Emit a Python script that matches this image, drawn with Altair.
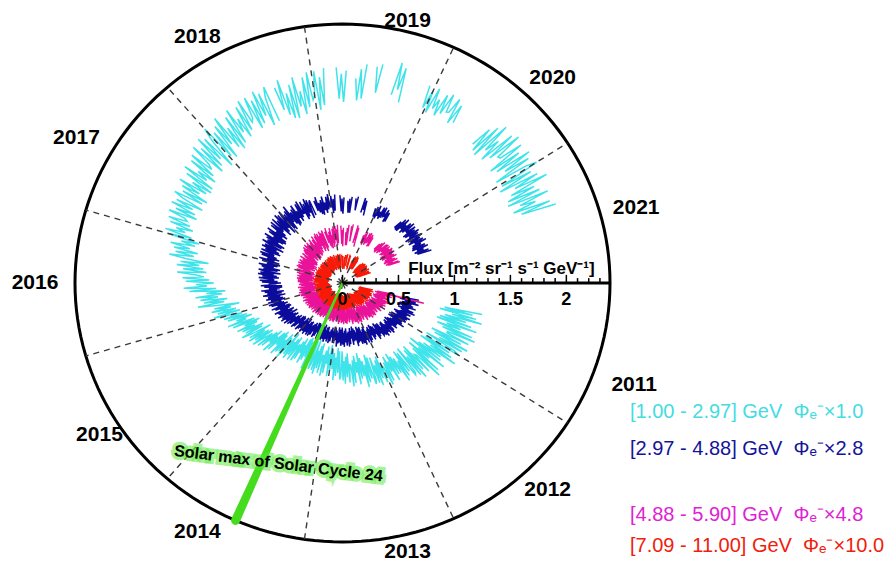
import altair as alt
import pandas as pd

RMAX = 2.39      # outer flux of the polar frame
T0 = 2011.0      # angle 0 (the flux axis)
SPAN = 11.0      # years per full turn

# time grid (decimal years) shared by all four series
years = [round(2011.40 + 0.02 * i, 2) for i in range(499)]

N = None
cyan = [
    1.28, 0.94, 1.20, 0.90, 1.24, 1.02, 1.30, 0.96, 1.16, 0.92,
    1.22, 0.90, 1.28, 1.00, 1.14, 0.92, 1.26, 0.98, 1.30, 1.04,
    1.04, 1.26, 0.90, 1.20, 0.94, 1.28, 1.00, 1.24, 0.88, 1.18,
    1.23, 0.89, 1.15, 0.85, 1.19, 0.97, 1.25, 0.91, 1.11, 0.87,
    1.13, 0.79, 1.19, 0.90, 1.04, 0.81, 1.17, 0.87, 1.21, 0.94,
    0.92, 1.12, 0.80, 1.07, 0.83, 1.14, 0.89, 1.10, 0.78, 1.05,
    1.07, 0.81, 1.01, 0.78, 1.04, 0.87, 1.08, 0.83, 0.98, 0.80,
    0.98, 0.76, 1.03, 0.83, 0.93, 0.77, 1.01, 0.82, 1.04, 0.86,
    0.84, 1.00, 0.74, 0.95, 0.77, 1.01, 0.81, 0.98, 0.73, 0.94,
    0.98, 0.72, 0.92, 0.69, 0.95, 0.78, 0.99, 0.74, 0.88, 0.71,
    0.90, 0.66, 0.95, 0.74, 0.84, 0.68, 0.93, 0.72, 0.96, 0.77,
    0.75, 0.92, 0.65, 0.87, 0.68, 0.93, 0.72, 0.90, 0.63, 0.86,
    0.89, 0.63, 0.83, 0.60, 0.86, 0.69, 0.90, 0.65, 0.80, 0.62,
    0.82, 0.58, 0.87, 0.66, 0.76, 0.60, 0.85, 0.64, 0.88, 0.69,
    0.69, 0.86, 0.58, 0.82, 0.61, 0.88, 0.66, 0.85, 0.56, 0.80,
    0.85, 0.58, 0.79, 0.55, 0.82, 0.65, 0.87, 0.60, 0.76, 0.57,
    0.80, 0.59, 0.84, 0.66, 0.75, 0.60, 0.82, 0.64, 0.85, 0.68,
    0.71, 0.86, 0.62, 0.82, 0.65, 0.87, 0.69, 0.84, 0.61, 0.81,
    0.90, 0.68, 0.85, 0.65, 0.87, 0.73, 0.91, 0.69, 0.82, 0.66,
    0.90, 0.69, 0.94, 0.76, 0.85, 0.70, 0.92, 0.74, 0.95, 0.78,
    0.85, 0.98, 0.76, 0.94, 0.79, 0.99, 0.82, 0.97, 0.75, 0.93,
    1.03, 0.82, 0.98, 0.80, 1.00, 0.87, 1.04, 0.84, 0.96, 0.81,
    1.06, 0.85, 1.10, 0.92, 1.01, 0.86, 1.08, 0.90, 1.11, 0.94,
    1.04, 1.19, 0.95, 1.15, 0.98, 1.20, 1.02, 1.17, 0.94, 1.14,
    1.31, 1.07, 1.25, 1.04, 1.28, 1.12, 1.32, 1.08, 1.22, 1.05,
    1.37, 1.13, 1.42, 1.21, 1.31, 1.15, 1.40, 1.19, 1.43, 1.24,
    1.32, 1.48, 1.22, 1.43, 1.25, 1.49, 1.29, 1.46, 1.21, 1.42,
    1.57, 1.35, 1.52, 1.32, 1.54, 1.40, 1.58, 1.36, 1.49, 1.33,
    1.62, 1.41, 1.66, 1.48, 1.57, 1.42, 1.64, 1.46, 1.67, 1.50,
    1.53, 1.69, 1.43, 1.64, 1.46, 1.70, 1.50, 1.67, 1.42, 1.63,
    1.72, 1.45, 1.66, 1.42, 1.69, 1.52, 1.74, 1.47, 1.63, 1.44,
    1.72, 1.45, 1.77, 1.54, 1.65, 1.47, 1.76, 1.52, 1.79, 1.57,
    1.62, 1.83, 1.49, 1.77, 1.53, 1.85, 1.58, 1.81, 1.47, 1.76,
    1.88, 1.54, 1.80, 1.50, 1.84, 1.62, 1.90, 1.56, 1.76, 1.52,
    1.85, 1.56, 1.90, 1.65, 1.78, 1.58, 1.88, 1.63, 1.92, 1.69,
    1.72, 1.92, 1.60, 1.87, 1.63, 1.94, 1.69, 1.90, 1.58, 1.85,
    1.94, 1.60, N, N, 1.90, 1.68, 1.96, 1.62, 1.82, 1.58,
    1.89, 1.57, 1.95, 1.67, 1.81, 1.59, 1.93, 1.65, 1.97, 1.71,
    1.75, 1.97, 1.61, 1.91, 1.65, 1.99, N, N, N, N,
    1.99, 1.70, 1.93, 1.67, 1.96, N, N, N, 1.89, 1.69,
    1.98, 1.71, 2.03, N, N, N, 2.02, 1.78, 2.05, N,
    N, N, N, N, 1.79, 2.10, 1.85, 2.06, 1.74, N,
    N, N, N, N, N, N, N, N, 1.98, 1.77,
    1.95, 1.74, 1.99, 1.80, 1.90, 1.75, 1.97, 1.79, 2.00, 1.83,
    1.84, 1.99, 1.75, 1.95, 1.78, N, N, N, N, N,
    N, N, N, N, N, N, N, 1.73, 1.93, 1.69,
    1.99, 1.67, 2.05, 1.77, 1.91, 1.69, 2.03, 1.75, 2.07, 1.81,
    1.82, 2.04, 1.68, 1.98, 1.72, 2.06, 1.78, 2.02, 1.66, 1.96,
    2.06, 1.68, 1.97, 1.64, 2.01, 1.77, 2.08, 1.71, 1.93, 1.66,
    1.96, 1.64, 2.02, 1.74, 1.88, 1.66, 2.00, 1.72, 2.04,
]

blue = [
    0.70, 0.55, 0.67, 0.53, 0.68, 0.58, 0.71, 0.56, 0.65, 0.54,
    0.67, 0.53, 0.70, 0.57, 0.64, 0.54, 0.69, 0.57, 0.71, 0.59,
    0.58, 0.68, 0.52, 0.65, 0.54, 0.69, 0.56, 0.67, 0.51, 0.65,
    0.67, 0.52, 0.64, 0.50, 0.65, 0.55, 0.68, 0.53, 0.62, 0.51,
    0.62, 0.49, 0.64, 0.53, 0.59, 0.50, 0.63, 0.52, 0.65, 0.55,
    0.54, 0.63, 0.49, 0.61, 0.50, 0.64, 0.53, 0.62, 0.48, 0.60,
    0.61, 0.48, 0.58, 0.46, 0.60, 0.51, 0.62, 0.48, 0.56, 0.47,
    0.58, 0.45, 0.60, 0.49, 0.55, 0.46, 0.59, 0.48, 0.61, 0.51,
    0.50, 0.60, 0.44, 0.57, 0.46, 0.61, 0.48, 0.59, 0.43, 0.57,
    0.59, 0.44, 0.56, 0.42, 0.57, 0.47, 0.60, 0.45, 0.54, 0.43,
    0.55, 0.41, 0.58, 0.45, 0.52, 0.42, 0.57, 0.45, 0.59, 0.47,
    0.48, 0.58, 0.42, 0.55, 0.44, 0.59, 0.46, 0.57, 0.41, 0.55,
    0.58, 0.43, 0.55, 0.41, 0.56, 0.46, 0.59, 0.44, 0.53, 0.42,
    0.54, 0.41, 0.56, 0.45, 0.51, 0.42, 0.55, 0.44, 0.57, 0.47,
    0.47, 0.56, 0.42, 0.54, 0.43, 0.57, 0.46, 0.55, 0.41, 0.53,
    0.56, 0.43, 0.53, 0.41, 0.55, 0.46, 0.57, 0.43, 0.51, 0.42,
    0.55, 0.42, 0.57, 0.46, 0.52, 0.43, 0.56, 0.45, 0.58, 0.48,
    0.49, 0.58, 0.44, 0.56, 0.45, 0.59, 0.48, 0.57, 0.43, 0.55,
    0.59, 0.46, 0.56, 0.44, 0.58, 0.49, 0.60, 0.46, 0.54, 0.45,
    0.59, 0.46, 0.61, 0.50, 0.56, 0.47, 0.60, 0.49, 0.62, 0.52,
    0.54, 0.64, 0.48, 0.61, 0.50, 0.65, 0.52, 0.63, 0.47, 0.61,
    0.66, 0.51, 0.63, 0.49, 0.64, 0.54, 0.67, 0.52, 0.61, 0.50,
    0.65, 0.51, 0.68, 0.55, 0.62, 0.52, 0.67, 0.55, 0.69, 0.57,
    0.59, 0.69, 0.53, 0.66, 0.55, 0.70, 0.57, 0.68, 0.52, 0.66,
    0.72, 0.55, 0.68, 0.53, 0.70, 0.59, 0.73, 0.56, 0.66, 0.54,
    0.70, 0.54, 0.73, 0.59, 0.66, 0.55, 0.72, 0.58, 0.74, 0.61,
    0.64, 0.75, 0.57, 0.72, 0.59, 0.76, 0.62, 0.74, 0.56, 0.71,
    0.76, 0.59, 0.72, 0.57, 0.74, 0.63, 0.77, 0.60, 0.70, 0.58,
    0.75, 0.59, 0.78, 0.64, 0.71, 0.60, 0.77, 0.63, 0.79, 0.66,
    0.68, 0.79, 0.61, 0.76, 0.63, 0.80, 0.66, 0.78, 0.60, 0.75,
    0.82, 0.63, 0.78, 0.61, 0.80, 0.68, 0.83, 0.64, 0.75, 0.62,
    0.81, 0.63, 0.84, 0.68, 0.76, 0.64, 0.83, 0.67, 0.85, 0.71,
    0.73, 0.86, 0.64, 0.82, 0.67, 0.87, 0.70, 0.85, 0.63, 0.81,
    0.87, 0.66, 0.82, 0.64, 0.84, 0.71, 0.88, 0.68, 0.80, 0.65,
    0.82, 0.66, 0.85, 0.71, 0.78, 0.67, 0.84, 0.70, 0.86, 0.73,
    0.73, 0.84, 0.66, 0.81, 0.68, 0.85, 0.71, 0.83, 0.65, 0.80,
    0.82, 0.67, N, N, 0.80, 0.70, 0.83, 0.68, 0.77, 0.66,
    0.79, 0.65, 0.82, 0.69, 0.76, 0.66, 0.81, 0.69, 0.83, 0.71,
    0.71, 0.81, 0.65, 0.78, 0.67, 0.82, N, N, N, N,
    0.81, 0.66, 0.78, 0.64, 0.79, N, N, N, 0.76, 0.65,
    0.78, 0.65, 0.80, N, N, N, 0.79, 0.68, 0.81, N,
    N, N, N, N, 0.67, 0.81, 0.70, 0.79, 0.65, N,
    N, N, N, N, N, N, N, N, 0.75, 0.67,
    0.77, 0.66, 0.79, 0.69, 0.74, 0.67, 0.79, 0.69, 0.80, 0.71,
    0.72, 0.79, 0.67, 0.77, 0.68, N, N, N, N, N,
    N, N, N, N, N, N, N, 0.69, 0.77, 0.68,
    0.81, 0.68, 0.83, 0.72, 0.78, 0.69, 0.82, 0.71, 0.84, 0.74,
    0.74, 0.83, 0.69, 0.81, 0.70, 0.84, 0.73, 0.82, 0.68, 0.80,
    0.84, 0.71, 0.81, 0.69, 0.83, 0.74, 0.85, 0.71, 0.79, 0.70,
    0.82, 0.69, 0.84, 0.73, 0.79, 0.70, 0.83, 0.72, 0.85,
]

magenta = [
    0.45, 0.32, 0.75, 0.30, 0.44, 0.35, 0.46, 0.32, 0.40, 0.31,
    0.42, 0.29, 0.44, 0.33, 0.39, 0.30, 0.43, 0.32, 0.45, 0.35,
    0.34, 0.43, 0.29, 0.41, 0.30, 0.44, 0.33, 0.42, 0.28, 0.40,
    0.42, 0.29, 0.39, 0.27, 0.41, 0.32, 0.43, 0.29, 0.37, 0.28,
    0.39, 0.26, 0.41, 0.30, 0.36, 0.27, 0.40, 0.29, 0.42, 0.32,
    0.32, 0.41, 0.27, 0.39, 0.28, 0.42, 0.31, 0.40, 0.26, 0.38,
    0.40, 0.27, 0.37, 0.25, 0.39, 0.30, 0.41, 0.27, 0.35, 0.26,
    0.37, 0.24, 0.39, 0.28, 0.34, 0.25, 0.38, 0.27, 0.40, 0.30,
    0.30, 0.39, 0.25, 0.37, 0.26, 0.40, 0.29, 0.38, 0.24, 0.36,
    0.38, 0.25, 0.35, 0.23, 0.37, 0.28, 0.39, 0.25, 0.33, 0.24,
    0.35, 0.22, 0.37, 0.26, 0.32, 0.23, 0.36, 0.25, 0.38, 0.28,
    0.28, 0.37, 0.23, 0.35, 0.24, 0.38, 0.27, 0.36, 0.22, 0.34,
    0.37, 0.24, 0.34, 0.22, 0.36, 0.27, 0.38, 0.24, 0.32, 0.23,
    0.34, 0.21, 0.36, 0.25, 0.31, 0.22, 0.35, 0.24, 0.37, 0.27,
    0.27, 0.36, 0.22, 0.34, 0.23, 0.37, 0.26, 0.35, 0.21, 0.33,
    0.36, 0.23, 0.33, 0.21, 0.35, 0.26, 0.37, 0.23, 0.31, 0.22,
    0.34, 0.21, 0.36, 0.25, 0.31, 0.22, 0.35, 0.24, 0.37, 0.27,
    0.27, 0.36, 0.22, 0.34, 0.23, 0.37, 0.26, 0.35, 0.21, 0.33,
    0.37, 0.24, 0.34, 0.22, 0.36, 0.27, 0.38, 0.24, 0.32, 0.23,
    0.35, 0.22, 0.37, 0.26, 0.32, 0.23, 0.36, 0.25, 0.38, 0.28,
    0.28, 0.37, 0.23, 0.35, 0.24, 0.38, 0.27, 0.36, 0.22, 0.34,
    0.38, 0.25, 0.35, 0.23, 0.37, 0.28, 0.39, 0.25, 0.33, 0.24,
    0.36, 0.23, 0.38, 0.27, 0.33, 0.24, 0.37, 0.26, 0.39, 0.29,
    0.30, 0.39, 0.25, 0.37, 0.26, 0.40, 0.29, 0.38, 0.24, 0.36,
    0.39, 0.26, 0.36, 0.24, 0.38, 0.29, 0.40, 0.26, 0.34, 0.25,
    0.37, 0.24, 0.39, 0.28, 0.34, 0.25, 0.38, 0.27, 0.40, 0.30,
    0.31, 0.40, 0.26, 0.38, 0.27, 0.41, 0.30, 0.39, 0.25, 0.37,
    0.41, 0.28, 0.38, 0.26, 0.40, 0.31, 0.42, 0.28, 0.36, 0.27,
    0.40, 0.26, 0.43, 0.30, 0.37, 0.27, 0.42, 0.30, 0.44, 0.32,
    0.33, 0.43, 0.27, 0.40, 0.29, 0.44, 0.31, 0.42, 0.26, 0.40,
    0.44, 0.29, 0.41, 0.27, 0.42, 0.32, 0.45, 0.30, 0.39, 0.28,
    0.42, 0.28, 0.45, 0.32, 0.39, 0.29, 0.44, 0.32, 0.46, 0.34,
    0.37, 0.48, 0.30, 0.45, 0.32, 0.49, 0.35, 0.47, 0.29, 0.44,
    0.49, 0.32, 0.45, 0.30, 0.47, 0.36, 0.50, 0.33, 0.43, 0.31,
    0.48, 0.32, 0.51, 0.37, 0.44, 0.33, 0.50, 0.36, 0.52, 0.39,
    0.40, 0.51, 0.33, 0.48, 0.35, 0.52, 0.38, 0.50, 0.32, 0.47,
    0.52, 0.35, N, N, 0.50, 0.39, 0.53, 0.36, 0.46, 0.34,
    0.49, 0.33, 0.52, 0.38, 0.45, 0.34, 0.51, 0.37, 0.53, 0.40,
    0.42, 0.53, 0.35, 0.50, 0.37, 0.54, N, N, N, N,
    0.53, 0.36, 0.49, 0.34, 0.51, N, N, N, 0.47, 0.35,
    0.51, 0.35, 0.54, N, N, N, 0.53, 0.39, 0.55, N,
    N, N, N, N, 0.38, 0.55, 0.41, 0.53, 0.35, N,
    N, N, N, N, N, N, N, N, 0.48, 0.40,
    0.50, 0.39, 0.52, 0.42, 0.47, 0.40, 0.52, 0.42, 0.53, 0.44,
    0.45, 0.52, 0.40, 0.50, 0.41, N, N, N, N, N,
    N, N, N, N, N, N, N, 0.42, 0.49, 0.41,
    0.51, 0.40, 0.53, 0.43, 0.48, 0.41, 0.53, 0.43, 0.54, 0.45,
    0.47, 0.54, 0.42, 0.52, 0.43, 0.55, 0.45, 0.54, 0.41, 0.52,
    0.54, 0.42, 0.52, 0.41, 0.53, 0.45, 0.55, 0.43, 0.50, 0.42,
    0.52, 0.41, 0.54, 0.44, 0.49, 0.42, 0.54, 0.44, 0.55,
]

red = [
    0.28, 0.16, 0.26, 0.15, 0.27, 0.19, 0.29, 0.17, 0.24, 0.16,
    0.26, 0.15, 0.28, 0.18, 0.23, 0.16, 0.28, 0.18, 0.29, 0.20,
    0.20, 0.27, 0.15, 0.25, 0.16, 0.28, 0.18, 0.27, 0.14, 0.25,
    0.27, 0.15, 0.25, 0.14, 0.26, 0.18, 0.28, 0.16, 0.23, 0.15,
    0.24, 0.13, 0.26, 0.16, 0.21, 0.14, 0.26, 0.16, 0.27, 0.18,
    0.19, 0.26, 0.14, 0.24, 0.15, 0.27, 0.17, 0.26, 0.13, 0.24,
    0.25, 0.13, 0.23, 0.12, 0.24, 0.16, 0.26, 0.14, 0.21, 0.13,
    0.22, 0.11, 0.24, 0.14, 0.19, 0.12, 0.24, 0.14, 0.25, 0.16,
    0.17, 0.24, 0.12, 0.22, 0.13, 0.25, 0.15, 0.24, 0.11, 0.22,
    0.24, 0.12, 0.22, 0.11, 0.23, 0.15, 0.25, 0.13, 0.20, 0.12,
    0.22, 0.11, 0.24, 0.14, 0.19, 0.12, 0.24, 0.14, 0.25, 0.16,
    0.17, 0.24, 0.12, 0.22, 0.13, 0.25, 0.15, 0.24, 0.11, 0.22,
    0.24, 0.12, 0.22, 0.11, 0.23, 0.15, 0.25, 0.13, 0.20, 0.12,
    0.22, 0.11, 0.24, 0.14, 0.19, 0.12, 0.24, 0.14, 0.25, 0.16,
    0.17, 0.24, 0.12, 0.22, 0.13, 0.25, 0.15, 0.24, 0.11, 0.22,
    0.24, 0.12, 0.22, 0.11, 0.23, 0.15, 0.25, 0.13, 0.20, 0.12,
    0.22, 0.11, 0.24, 0.14, 0.19, 0.12, 0.24, 0.14, 0.25, 0.16,
    0.17, 0.24, 0.12, 0.22, 0.13, 0.25, 0.15, 0.24, 0.11, 0.22,
    0.24, 0.12, 0.22, 0.11, 0.23, 0.15, 0.25, 0.13, 0.20, 0.12,
    0.22, 0.11, 0.24, 0.14, 0.19, 0.12, 0.24, 0.14, 0.25, 0.16,
    0.17, 0.24, 0.12, 0.22, 0.13, 0.25, 0.15, 0.24, 0.11, 0.22,
    0.24, 0.12, 0.22, 0.11, 0.23, 0.15, 0.25, 0.13, 0.20, 0.12,
    0.22, 0.11, 0.24, 0.14, 0.19, 0.12, 0.24, 0.14, 0.25, 0.16,
    0.17, 0.24, 0.12, 0.22, 0.13, 0.25, 0.15, 0.24, 0.11, 0.22,
    0.24, 0.12, 0.22, 0.11, 0.23, 0.15, 0.25, 0.13, 0.20, 0.12,
    0.23, 0.12, 0.25, 0.15, 0.20, 0.13, 0.25, 0.15, 0.26, 0.17,
    0.18, 0.25, 0.13, 0.23, 0.14, 0.26, 0.16, 0.25, 0.12, 0.23,
    0.25, 0.13, 0.23, 0.12, 0.24, 0.16, 0.26, 0.14, 0.21, 0.13,
    0.23, 0.12, 0.25, 0.15, 0.20, 0.13, 0.25, 0.15, 0.26, 0.17,
    0.18, 0.25, 0.13, 0.23, 0.14, 0.26, 0.16, 0.25, 0.12, 0.23,
    0.25, 0.13, 0.23, 0.12, 0.24, 0.16, 0.26, 0.14, 0.21, 0.13,
    0.23, 0.12, 0.25, 0.15, 0.20, 0.13, 0.25, 0.15, 0.26, 0.17,
    0.18, 0.25, 0.13, 0.23, 0.14, 0.26, 0.16, 0.25, 0.12, 0.23,
    0.25, 0.13, 0.23, 0.12, 0.24, 0.16, 0.26, 0.14, 0.21, 0.13,
    0.24, 0.13, 0.26, 0.16, 0.21, 0.14, 0.26, 0.16, 0.27, 0.18,
    0.19, 0.26, 0.14, 0.24, 0.15, 0.27, 0.17, 0.26, 0.13, 0.24,
    0.26, 0.14, N, N, 0.25, 0.17, 0.27, 0.15, 0.22, 0.14,
    0.24, 0.13, 0.26, 0.16, 0.21, 0.14, 0.26, 0.16, 0.27, 0.18,
    0.19, 0.26, 0.14, 0.24, 0.15, 0.27, N, N, N, N,
    0.26, 0.14, 0.24, 0.13, 0.25, N, N, N, 0.22, 0.14,
    0.24, 0.13, 0.26, N, N, N, 0.26, 0.16, 0.27, N,
    N, N, N, N, 0.15, 0.27, 0.17, 0.26, 0.13, N,
    N, N, N, N, N, N, N, N, 0.23, 0.15,
    0.25, 0.14, 0.27, 0.17, 0.22, 0.15, 0.27, 0.17, 0.28, 0.19,
    0.20, 0.27, 0.15, 0.25, 0.16, N, N, N, N, N,
    N, N, N, N, N, N, N, 0.16, 0.23, 0.15,
    0.24, 0.13, 0.26, 0.16, 0.21, 0.14, 0.26, 0.16, 0.27, 0.18,
    0.19, 0.26, 0.14, 0.24, 0.15, 0.27, 0.17, 0.26, 0.13, 0.24,
    0.26, 0.14, 0.24, 0.13, 0.25, 0.17, 0.27, 0.15, 0.22, 0.14,
    0.24, 0.13, 0.26, 0.16, 0.21, 0.14, 0.26, 0.16, 0.27,
]

series_names = ["cyan", "blue", "magenta", "red"]
series_colors = ["#3FE3EA", "#0C0C9C", "#EA1299", "#F81A08"]
series_widths = [1.5, 1.5, 1.4, 1.4]

legend_texts = [
    "[1.00 - 2.97] GeV\u00a0\u00a0\u03a6\u2091\u207b\u00d71.0",
    "[2.97 - 4.88] GeV\u00a0\u00a0\u03a6\u2091\u207b\u00d72.8",
    "[4.88 - 5.90] GeV\u00a0\u00a0\u03a6\u2091\u207b\u00d74.8",
    "[7.09 - 11.00] GeV\u00a0\u00a0\u03a6\u2091\u207b\u00d710.0",
]
legend_colors = ["#44DCE2", "#14149A", "#DE22D4", "#F0200C"]

year_labels = list(range(2011, 2022))
boundary_years = list(range(2012, 2022))
flux_tick_values = [0, 0.5, 1, 1.5, 2]
flux_tick_labels = ["0", "0.5", "1", "1.5", "2"]
solar_max_time = 2014.47

# ---------------- layout (pixels) ----------------
W, H = 535, 518
PXX, PXY = W / (2 * RMAX), H / (2 * RMAX)
year_dx = [35, 30, 27, -34, -18, -40, -41, -34, 27, 35, 37]
year_dy = [29, 11, 13, 13, 12, 0, -5, -10, -6, -9, -2]
legend_x = 555
legend_y = [388, 425, 491, 522]
FONT = "Liberation Sans"

# ---------------- tables ----------------
rows = []
for name, vals in zip(series_names, [cyan, blue, magenta, red]):
    seg, gap = 0, False
    for t, v in zip(years, vals):
        if v is None:
            gap = True
            continue
        if gap:
            seg += 1
            gap = False
        rows.append({"t": t, "v": v, "s": name, "seg": f"{name}_{seg}"})
flux = pd.DataFrame(rows)

PHI = f"(datum.t - {T0}) / {SPAN} * 2 * PI"
xs = alt.Scale(domain=[-RMAX, RMAX], nice=False, zero=False)
ys = alt.Scale(domain=[-RMAX, RMAX], nice=False, zero=False)


def X(f="x"):
    return alt.X(f"{f}:Q", scale=xs, axis=None)


def Y(f="y"):
    return alt.Y(f"{f}:Q", scale=ys, axis=None)


def polar(ch):
    return ch.transform_calculate(phi=PHI).transform_calculate(
        x="datum.v * cos(datum.phi)", y="-datum.v * sin(datum.phi)"
    )


# outer circle
circle_df = pd.DataFrame({"a": list(range(0, 361, 2))})
circle = alt.Chart(circle_df).transform_calculate(
    x=f"{RMAX} * cos(datum.a * PI / 180)", y=f"{RMAX} * sin(datum.a * PI / 180)"
).mark_line(color="black", strokeWidth=3).encode(x=X(), y=Y(), order="a:Q")

# data spirals
data_layers = []
for name, col, sw in zip(series_names, series_colors, series_widths):
    data_layers.append(
        polar(alt.Chart(flux).transform_filter(f"datum.s == '{name}'"))
        .mark_line(color=col, strokeWidth=sw)
        .encode(x=X(), y=Y(), detail="seg:N", order="t:Q")
    )

# dashed year boundaries
dash_df = pd.DataFrame({"t": boundary_years, "v": [RMAX] * len(boundary_years)})
dashes = polar(alt.Chart(dash_df)).transform_calculate(x0="0", y0="0").mark_rule(
    color="#3a3a3a", strokeWidth=1.4, strokeDash=[6, 5]
).encode(x=X("x0"), y=Y("y0"), x2="x:Q", y2="y:Q")

# solar max wedge
wedge_df = pd.DataFrame({"t": [solar_max_time] * 2, "v": [0.0, RMAX], "w": [2.0, 9.0]})
wedge = polar(alt.Chart(wedge_df)).mark_trail(color="#46DC1E").encode(
    x=X(), y=Y(), size=alt.Size("w:Q", scale=None, legend=None), order="v:Q"
)

# flux axis
axis_df = pd.DataFrame({"x0": [0.0], "x1": [RMAX], "y0": [0.0]})
axis_line = alt.Chart(axis_df).mark_rule(color="black", strokeWidth=3).encode(
    x=X("x0"), x2="x1:Q", y=Y("y0")
)
tick_df = pd.DataFrame({"x": [round(0.1 * i, 1) for i in range(24)]})
tick_df["y0"] = 0.0
tick_df["y1"] = [0.075 if i % 5 == 0 else 0.045 for i in range(24)]
ticks = alt.Chart(tick_df).mark_rule(color="black", strokeWidth=1.5).encode(
    x=X(), y=Y("y0"), y2="y1:Q"
)
lab_df = pd.DataFrame({"x": flux_tick_values, "y": [0.0] * 5, "label": flux_tick_labels})
tick_text = alt.Chart(lab_df).mark_text(
    font=FONT, fontSize=18, fontWeight="bold", dy=17, baseline="middle", color="black"
).encode(x=X(), y=Y(), text="label:N")
ftitle_df = pd.DataFrame({"x": [1.42], "y": [0.0],
                          "label": ["Flux [m\u207b\u00b2 sr\u207b\u00b9 s\u207b\u00b9 GeV\u207b\u00b9]"]})
flux_title = alt.Chart(ftitle_df).mark_text(
    font=FONT, fontSize=17, fontWeight="bold", dy=-14, baseline="middle", color="black"
).encode(x=X(), y=Y(), text="label:N")

# year labels
ydf = pd.DataFrame({"label": [str(y) for y in year_labels],
                    "t": [y + 0.5 for y in year_labels],
                    "dxp": year_dx, "dyp": year_dy})
years_text = alt.Chart(ydf).transform_calculate(phi=PHI).transform_calculate(
    x=f"{RMAX} * cos(datum.phi) + datum.dxp / {PXX}",
    y=f"-{RMAX} * sin(datum.phi) - datum.dyp / {PXY}",
).mark_text(font=FONT, fontSize=21, fontWeight="bold", baseline="middle", color="black").encode(
    x=X(), y=Y(), text="label:N"
)

# solar max annotation
gl_df = pd.DataFrame({"t": [solar_max_time], "v": [1.75], "label": ["Solar max of Solar Cycle 24"]})
glow = polar(alt.Chart(gl_df)).mark_text(
    font=FONT, fontSize=16, fontWeight="bold", angle=7, dx=15, dy=5, baseline="middle",
    color="#55EA33", stroke="#55EA33", strokeWidth=7, strokeOpacity=0.6, opacity=0.85
).encode(x=X(), y=Y(), text="label:N")
glabel = polar(alt.Chart(gl_df)).mark_text(
    font=FONT, fontSize=16, fontWeight="bold", angle=7, dx=15, dy=5, baseline="middle",
    color="black"
).encode(x=X(), y=Y(), text="label:N")

# legend texts
legend_layers = []
for txt, col, yv in zip(legend_texts, legend_colors, legend_y):
    legend_layers.append(
        alt.Chart(pd.DataFrame({"label": [txt]})).mark_text(
            font=FONT, fontSize=20, align="left", baseline="middle", color=col
        ).encode(x=alt.value(legend_x), y=alt.value(yv), text="label:N")
    )

chart = alt.layer(
    circle, *data_layers, dashes, wedge, axis_line, ticks, tick_text, flux_title,
    years_text, glow, glabel, *legend_layers
).properties(
    width=W, height=H,
    autosize=alt.AutoSizeParams(type="none"),
    padding={"left": 67, "top": 16, "right": 275, "bottom": 22},
).configure_view(stroke=None)

chart.save("out.html", embed_options={"renderer": "svg", "actions": False})
